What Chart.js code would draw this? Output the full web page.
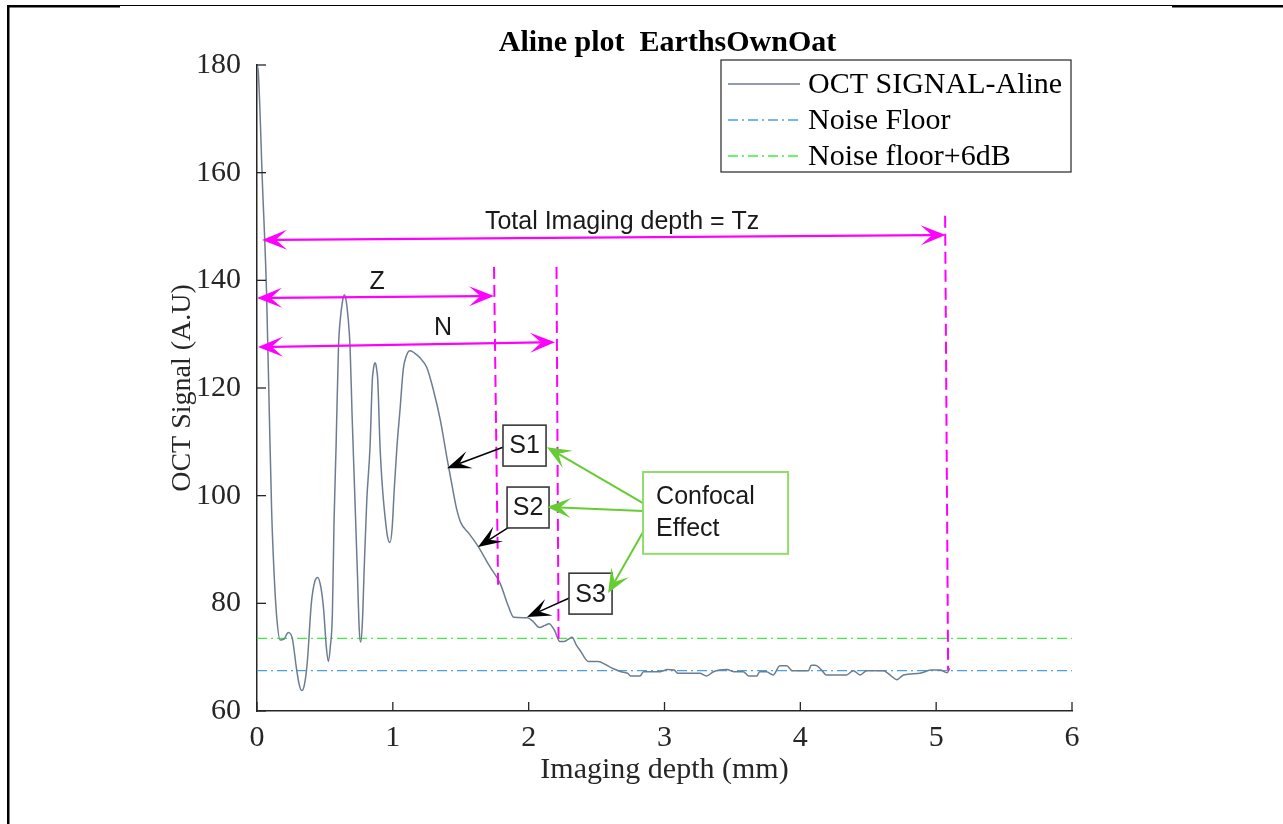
<!DOCTYPE html>
<html>
<head>
<meta charset="utf-8">
<title>Aline plot EarthsOwnOat</title>
<script src="https://cdn.jsdelivr.net/npm/chart.js@4.4.1/dist/chart.umd.min.js"></script>
<style>
  html, body { margin: 0; padding: 0; background: #fff; }
  #wrap { position: relative; width: 1283px; height: 824px; }
</style>
</head>
<body>
<div id="wrap"><canvas id="aline"></canvas></div>
<script>
// ---- data ----
const depthMm = [
  0, 0.01, 0.04, 0.07, 0.09, 0.108, 0.125, 0.145, 0.17, 0.2,
  0.23, 0.26, 0.29, 0.31, 0.33, 0.35, 0.37, 0.40, 0.425, 0.447,
  0.47, 0.49, 0.51, 0.525, 0.54, 0.555, 0.567, 0.582, 0.60, 0.615,
  0.63, 0.643, 0.656, 0.67, 0.685, 0.70, 0.72, 0.74, 0.753, 0.763,
  0.775, 0.79, 0.808, 0.832, 0.849, 0.855, 0.862, 0.869, 0.876, 0.883,
  0.889, 0.906, 0.925, 0.943, 0.96, 0.979, 0.995, 1.01, 1.03, 1.053,
  1.077, 1.10, 1.127, 1.16, 1.2, 1.25, 1.30, 1.35, 1.40, 1.446,
  1.47, 1.50, 1.56, 1.63, 1.71, 1.79, 1.85, 1.89, 1.99, 2.03,
  2.08, 2.12, 2.15, 2.19, 2.23, 2.26, 2.29, 2.32, 2.35, 2.38,
  2.44, 2.51, 2.575, 2.62, 2.68, 2.73, 2.75, 2.82, 2.845, 2.97,
  3.02, 3.07, 3.10, 3.26, 3.31, 3.36, 3.46, 3.51, 3.58, 3.62,
  3.68, 3.70, 3.75, 3.80, 3.85, 3.90, 3.94, 4.06, 4.08, 4.11,
  4.16, 4.19, 4.34, 4.39, 4.44, 4.49, 4.61, 4.67, 4.71, 4.76,
  4.88, 4.96, 5.03, 5.08, 5.10
];
const signalAU = [
  180, 178.5, 158, 138, 116, 97, 86, 77.5, 73.2, 73.4,
  74.6, 73.5, 68, 65, 63.8, 65, 69, 80, 84, 84.8,
  83, 79, 72, 69.2, 72, 78, 95, 109, 127.7, 133.2,
  136.2, 137.3, 136.3, 133.2, 127.7, 115, 100, 85, 75, 72.8,
  76, 87, 99, 109, 121.5, 123.1, 124.3, 124.7, 124.3, 123.1,
  121.5, 109, 101, 96, 92.5, 91.3, 94, 101, 109, 116,
  123.5, 126, 126.9, 126.5, 125.6, 123.8, 119.5, 114, 106.8, 100.5,
  97.5, 95, 93, 90.5, 87, 83.7, 79.5, 77.4, 77.3, 76.7,
  75.5, 75.9, 76.2, 75, 72.9, 72.9, 73.3, 73.7, 72.3, 71.2,
  69.2, 69.2, 68.5, 67.9, 67.3, 67, 66.5, 66.5, 67.3, 67.3,
  67.7, 67.6, 67, 67, 66.5, 67.3, 67.7, 67.3, 67.3, 66.5,
  66.5, 67.3, 67.3, 66.7, 68.4, 68.4, 67.5, 67.5, 68.5, 68.5,
  67.5, 66.7, 66.7, 67.5, 66.7, 67.5, 67.5, 66.5, 65.8, 66.7,
  67, 67.6, 67.6, 67.1, 67.9
];
const floorDepth = [0, 6];
const noiseFloorAU = [67.5, 67.5];
const noisePlus6AU = [73.5, 73.5];
const xTicks = [0, 1, 2, 3, 4, 5, 6];
const yTicks = [60, 80, 100, 120, 140, 160, 180];

// annotations, in data units (mm, A.U)
const spanArrows = [
  { from: [0.037, 147.5], to: [5.07, 148.4] },
  { from: [0.0, 136.7], to: [1.745, 137.1] },
  { from: [0.007, 127.6], to: [2.194, 128.5] }
];
const spanLabels = [
  { text: 'Total Imaging depth = Tz', at: [2.688, 150.8] },
  { text: 'Z', at: [0.884, 139.7] },
  { text: 'N', at: [1.37, 131.2] }
];
const depthMarkers = [
  { top: [1.745, 142.5], bottom: [1.775, 83] },
  { top: [2.205, 142.5], bottom: [2.22, 73] },
  { top: [5.066, 152], bottom: [5.088, 67.5] }
];
const sBoxes = [
  { text: 'S1', x: [1.811, 2.128], y: [113.1, 105.5], tail: [1.811, 109.0], tip: [1.399, 105.1] },
  { text: 'S2', x: [1.841, 2.150], y: [101.6, 94.0], tail: [1.878, 94.55], tip: [1.627, 90.47] },
  { text: 'S3', x: [2.297, 2.614], y: [85.6, 78.0], tail: [2.349, 81.55], tip: [1.988, 77.46] }
];
const confocalBox = { lines: ['Confocal', 'Effect'], x: [2.842, 3.910], y: [104.4, 89.2], textX: 2.938, textY: [99.75, 93.8] };
const confocalArrows = [
  { tail: [2.842, 98.6], tip: [2.135, 109.0] },
  { tail: [2.842, 97.15], tip: [2.135, 97.9] },
  { tail: [2.842, 93.25], tip: [2.585, 81.9] }
];

const SERIF = '"Liberation Serif", "Times New Roman", serif';
const SANS = '"Liberation Sans", Arial, sans-serif';
const AXIS = '#262626';
const MAGENTA = '#ff00ff';
const GREEN_ARROW = '#66cc33';

function arrowHead(ctx, x0, y0, x1, y1, len, half, color) {
  const a = Math.atan2(y1 - y0, x1 - x0);
  ctx.save();
  ctx.translate(x1, y1);
  ctx.rotate(a);
  ctx.beginPath();
  ctx.moveTo(0, 0);
  ctx.lineTo(-len, -half);
  ctx.lineTo(-len * 0.55, 0);
  ctx.lineTo(-len, half);
  ctx.closePath();
  ctx.fillStyle = color;
  ctx.fill();
  ctx.restore();
}

function arrow(ctx, x0, y0, x1, y1, opts) {
  const a = Math.atan2(y1 - y0, x1 - x0);
  const back = opts.len * 0.55;
  ctx.save();
  ctx.strokeStyle = opts.color;
  ctx.lineWidth = opts.width;
  ctx.beginPath();
  const sx = opts.both ? x0 + Math.cos(a) * back : x0;
  const sy = opts.both ? y0 + Math.sin(a) * back : y0;
  ctx.moveTo(sx, sy);
  ctx.lineTo(x1 - Math.cos(a) * back, y1 - Math.sin(a) * back);
  ctx.stroke();
  ctx.restore();
  arrowHead(ctx, x0, y0, x1, y1, opts.len, opts.half, opts.color);
  if (opts.both) arrowHead(ctx, x1, y1, x0, y0, opts.len, opts.half, opts.color);
}

// annotation layer
const annotationPlugin = {
  id: 'alineAnnotations',
  afterDatasetsDraw(chart) {
    const { ctx, scales: { x, y } } = chart;
    const P = (pt) => [x.getPixelForValue(pt[0]), y.getPixelForValue(pt[1])];

    ctx.save();
    // dashed depth markers
    ctx.strokeStyle = MAGENTA;
    ctx.lineWidth = 2;
    ctx.setLineDash([12, 6]);
    depthMarkers.forEach(m => {
      const [tx, ty] = P(m.top), [bx, by] = P(m.bottom);
      ctx.beginPath(); ctx.moveTo(tx, ty); ctx.lineTo(bx, by); ctx.stroke();
    });
    ctx.setLineDash([]);

    // span arrows
    spanArrows.forEach(s => {
      const [ax, ay] = P(s.from), [bx, by] = P(s.to);
      arrow(ctx, ax, ay, bx, by, { color: MAGENTA, width: 2.2, len: 25, half: 10, both: true });
    });
    ctx.fillStyle = '#1a1a1a';
    ctx.font = '25px ' + SANS;
    ctx.textAlign = 'center';
    ctx.textBaseline = 'middle';
    spanLabels.forEach(l => {
      const [lx, ly] = P(l.at);
      ctx.fillText(l.text, lx, ly);
    });

    // S boxes with black arrows
    sBoxes.forEach(b => {
      const [tx, ty] = P(b.tail), [px, py] = P(b.tip);
      arrow(ctx, tx, ty, px, py, { color: '#000', width: 1.5, len: 24, half: 9 });
      const [l, t] = P([b.x[0], b.y[0]]), [r, btm] = P([b.x[1], b.y[1]]);
      ctx.fillStyle = '#fff';
      ctx.fillRect(l, t, r - l, btm - t);
      ctx.strokeStyle = '#3a3a3a';
      ctx.lineWidth = 1.6;
      ctx.strokeRect(l, t, r - l, btm - t);
      ctx.fillStyle = '#1a1a1a';
      ctx.font = '25px ' + SANS;
      ctx.textAlign = 'center';
      ctx.fillText(b.text, (l + r) / 2, (t + btm) / 2 + 1);
    });

    // Confocal effect box + green arrows
    confocalArrows.forEach(a => {
      const [tx, ty] = P(a.tail), [px, py] = P(a.tip);
      arrow(ctx, tx, ty, px, py, { color: GREEN_ARROW, width: 2, len: 24, half: 10 });
    });
    const [cl, ct] = P([confocalBox.x[0], confocalBox.y[0]]);
    const [cr, cb] = P([confocalBox.x[1], confocalBox.y[1]]);
    ctx.fillStyle = '#fff';
    ctx.fillRect(cl, ct, cr - cl, cb - ct);
    ctx.strokeStyle = '#92dc6e';
    ctx.lineWidth = 2;
    ctx.strokeRect(cl, ct, cr - cl, cb - ct);
    ctx.fillStyle = '#1a1a1a';
    ctx.font = '25px ' + SANS;
    ctx.textAlign = 'left';
    confocalBox.lines.forEach((txt, i) => {
      const [lx, ly] = P([confocalBox.textX, confocalBox.textY[i]]);
      ctx.fillText(txt, lx, ly);
    });
    ctx.restore();
  },
  afterDraw(chart) {
    const { ctx, scales: { x, y } } = chart;
    ctx.save();
    // inward tick marks
    ctx.strokeStyle = AXIS;
    ctx.lineWidth = 1.3;
    x.ticks.forEach(t => {
      const px = x.getPixelForValue(t.value);
      ctx.beginPath(); ctx.moveTo(px, y.bottom); ctx.lineTo(px, y.bottom - 9); ctx.stroke();
    });
    y.ticks.forEach(t => {
      const py = y.getPixelForValue(t.value);
      ctx.beginPath(); ctx.moveTo(x.left, py); ctx.lineTo(x.left + 9, py); ctx.stroke();
    });

    // title
    ctx.fillStyle = '#000';
    ctx.font = 'bold 30px ' + SERIF;
    ctx.textAlign = 'center';
    ctx.textBaseline = 'middle';
    ctx.fillText('Aline plot  EarthsOwnOat', (x.left + x.right) / 2 + 3, 43);

    // legend
    const box = { left: 721, top: 60, right: 1071, bottom: 172 };
    ctx.fillStyle = '#fff';
    ctx.fillRect(box.left, box.top, box.right - box.left, box.bottom - box.top);
    ctx.strokeStyle = AXIS;
    ctx.lineWidth = 1.2;
    ctx.strokeRect(box.left, box.top, box.right - box.left, box.bottom - box.top);
    chart.data.datasets.forEach((ds, i) => {
      const ry = 84 + i * 36;
      ctx.strokeStyle = ds.borderColor;
      ctx.lineWidth = ds.borderWidth;
      ctx.setLineDash(ds.borderDash || []);
      ctx.beginPath(); ctx.moveTo(728, ry); ctx.lineTo(800, ry); ctx.stroke();
      ctx.setLineDash([]);
      ctx.fillStyle = '#000';
      ctx.font = '30px ' + SERIF;
      ctx.textAlign = 'left';
      ctx.fillText(ds.label, 808, ry + 1);
    });

    // page frame
    ctx.fillStyle = '#000';
    ctx.fillRect(7, 5, 113, 2.5);
    ctx.fillRect(7, 5, 2.5, 819);
    ctx.fillRect(120, 5, 1052, 1);
    ctx.fillRect(1172, 5, 111, 2.5);
    ctx.restore();
  }
};

const toPoints = (xs, ys) => xs.map((v, i) => ({ x: v, y: ys[i] }));

new Chart(document.getElementById('aline'), {
  type: 'line',
  data: {
    datasets: [
      {
        label: 'OCT SIGNAL-Aline',
        data: toPoints(depthMm, signalAU),
        borderColor: '#6d7d91',
        borderWidth: 1.5,
        pointRadius: 0,
        cubicInterpolationMode: 'monotone',
        fill: false
      },
      {
        label: 'Noise Floor',
        data: toPoints(floorDepth, noiseFloorAU),
        borderColor: '#4aa0e0',
        borderWidth: 1.3,
        borderDash: [10, 4, 2, 4],
        pointRadius: 0,
        fill: false
      },
      {
        label: 'Noise floor+6dB',
        data: toPoints(floorDepth, noisePlus6AU),
        borderColor: '#3ef03e',
        borderWidth: 1.3,
        borderDash: [10, 4, 2, 4],
        pointRadius: 0,
        fill: false
      }
    ]
  },
  options: {
    responsive: true,
    maintainAspectRatio: false,
    animation: false,
    layout: { padding: { top: 65, right: 211, bottom: 0, left: 0 } },
    plugins: { legend: { display: false }, tooltip: { enabled: false }, title: { display: false } },
    scales: {
      x: {
        type: 'linear',
        min: xTicks[0],
        max: xTicks[xTicks.length - 1],
        afterBuildTicks: s => { s.ticks = xTicks.map(v => ({ value: v })); },
        afterFit: s => { s.height = 113; },
        grid: { display: false },
        border: { display: true, color: AXIS, width: 1.5 },
        ticks: { color: AXIS, font: { family: SERIF, size: 30 }, padding: 1, maxRotation: 0 },
        title: {
          display: true, text: 'Imaging depth (mm)', color: AXIS,
          font: { family: SERIF, size: 30 }, padding: { top: 0, bottom: 36 }
        }
      },
      y: {
        type: 'linear',
        min: yTicks[0],
        max: yTicks[yTicks.length - 1],
        afterBuildTicks: s => { s.ticks = yTicks.map(v => ({ value: v })); },
        afterFit: s => { s.width = 257; },
        grid: { display: false },
        border: { display: true, color: AXIS, width: 1.5 },
        ticks: { color: AXIS, font: { family: SERIF, size: 30 }, padding: 8 },
        title: {
          display: true, text: 'OCT Signal (A.U)', color: AXIS,
          font: { family: SERIF, size: 28 }, padding: { top: 166, bottom: 0 }
        }
      }
    }
  },
  plugins: [annotationPlugin]
});
</script>
</body>
</html>
